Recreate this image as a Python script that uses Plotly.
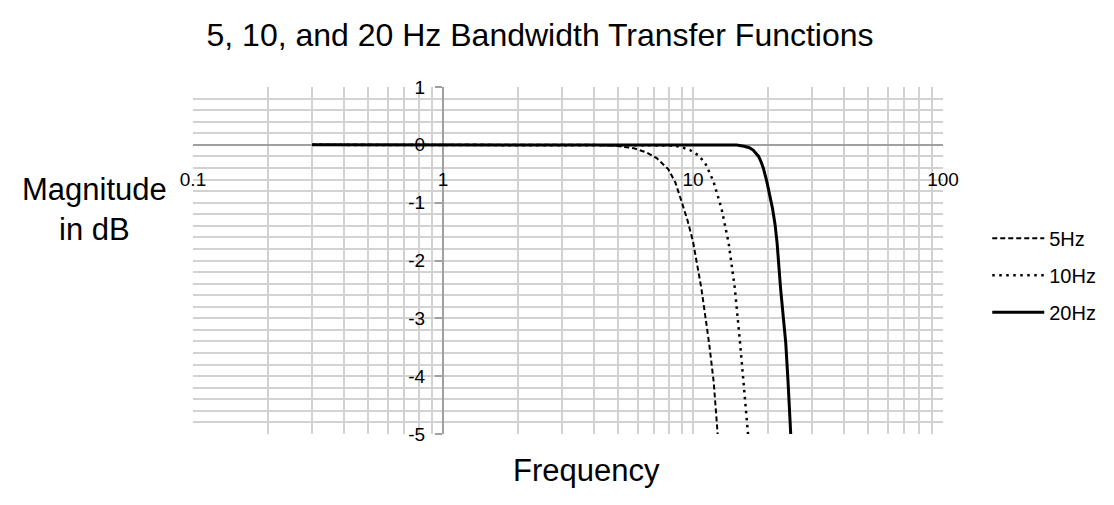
import plotly.graph_objects as go

# ---- data ----
freq_5hz = [0.3, 4.0, 5.0, 5.8, 6.5, 7.16, 7.96, 8.5, 9.0, 9.5, 10.0, 10.8, 11.6, 12.1, 12.55]
mag_5hz = [0, 0, -0.02, -0.06, -0.13, -0.23, -0.42, -0.65, -0.98, -1.3, -1.67, -2.48, -3.43, -4.1, -5.0]

freq_10hz = [0.3, 7.5, 8.34, 9.0, 9.72, 10.5, 11.2, 12.07, 13.0, 13.89, 14.7, 15.4, 16.0, 16.6]
mag_10hz = [0, 0, -0.01, -0.04, -0.09, -0.18, -0.32, -0.63, -1.10, -1.70, -2.48, -3.39, -4.2, -5.0]

freq_20hz = [0.3, 14.0, 14.95, 16.0, 16.8, 17.4, 18.3, 18.7, 19.1, 19.7, 20.3, 20.8, 21.3, 21.7, 22.4, 23.5, 24.0, 24.6]
mag_20hz = [0, 0, -0.005, -0.025, -0.05, -0.09, -0.2, -0.29, -0.40, -0.62, -0.86, -1.1, -1.38, -1.70, -2.48, -3.43, -4.1, -5.0]

x_tickvals = [0.1, 1, 10, 100]
x_ticktext = ["0.1", "1", "10", "100"]
y_tickvals = [1, 0, -1, -2, -3, -4, -5]
y_ticktext = ["1", "0", "-1", "-2", "-3", "-4", "-5"]

title_text = "5, 10, and 20 Hz Bandwidth Transfer Functions"
ylabel_text = "Magnitude<br>in dB"
xlabel_text = "Frequency"

FONT = "Liberation Sans, Arial, sans-serif"
GRID = "#d2d2d2"
AXIS = "#a0a0a0"

fig = go.Figure()
fig.add_trace(go.Scatter(x=freq_5hz, y=mag_5hz, mode="lines", name="5Hz", legendgroup="a",
                         line=dict(color="black", width=2, dash="5px,3px")))
fig.add_trace(go.Scatter(x=freq_10hz, y=mag_10hz, mode="lines", name="10Hz", legendgroup="b",
                         line=dict(color="black", width=2.5, dash="2.5px,4.5px")))
fig.add_trace(go.Scatter(x=freq_20hz, y=mag_20hz, mode="lines", name="20Hz", legendgroup="c",
                         line=dict(color="black", width=3)))

fig.update_layout(
    width=1114, height=505,
    margin=dict(l=185, r=179, t=79, b=79),
    paper_bgcolor="white", plot_bgcolor="white",
    font=dict(family=FONT, color="black", size=19),
    title=dict(text=title_text, x=0.4776, xanchor="center", xref="container",
               y=1 - 27 / 505, yanchor="middle", yref="container",
               font=dict(size=32, family=FONT, color="black")),
    xaxis=dict(type="log", range=[-1, 2], dtick="D1", showgrid=True, gridcolor=GRID, gridwidth=1.5,
               showticklabels=False, ticks="", zeroline=False, showline=False),
    yaxis=dict(range=[-5, 1], dtick=0.2, tick0=0, showgrid=True, gridcolor=GRID, gridwidth=1.5,
               showticklabels=False, ticks="", zeroline=False, showline=False),
    xaxis2=dict(type="log", range=[-1, 2], overlaying="x", anchor="free", position=5 / 6,
                side="bottom", showgrid=False, zeroline=False, showline=True, linecolor=AXIS,
                linewidth=2, tickmode="array", tickvals=x_tickvals, ticktext=x_ticktext,
                ticks="", ticklabelstandoff=17, tickfont=dict(size=19), layer="below traces"),
    yaxis2=dict(range=[-5, 1], overlaying="y", anchor="free", position=1 / 3, side="left",
                showgrid=False, zeroline=False, showline=True, linecolor=AXIS, linewidth=2,
                tickmode="array", tickvals=y_tickvals, ticktext=y_ticktext,
                ticks="outside", ticklen=7, tickcolor=AXIS, tickwidth=1.5,
                ticklabelstandoff=6, tickfont=dict(size=19), layer="below traces"),
    showlegend=True,
    legend=dict(x=1.059, y=0.62, xanchor="left", yanchor="top", font=dict(size=20),
                tracegroupgap=8, itemwidth=52, bgcolor="rgba(0,0,0,0)"),
)

# invisible helper trace so overlay axes get rendered
fig.add_trace(go.Scatter(x=[0.1, 100], y=[None, None], xaxis="x2", yaxis="y2",
                         showlegend=False, hoverinfo="skip", mode="lines"))

fig.add_annotation(text=ylabel_text, xref="paper", yref="paper", x=-0.131, y=0.648,
                   xanchor="center", yanchor="middle",
                   showarrow=False, font=dict(size=31, family=FONT), align="center")
fig.add_annotation(text=xlabel_text, xref="paper", yref="paper", x=0.524, y=-0.104,
                   xanchor="center", yanchor="middle",
                   showarrow=False, font=dict(size=31, family=FONT))

fig.write_html("out.html")
